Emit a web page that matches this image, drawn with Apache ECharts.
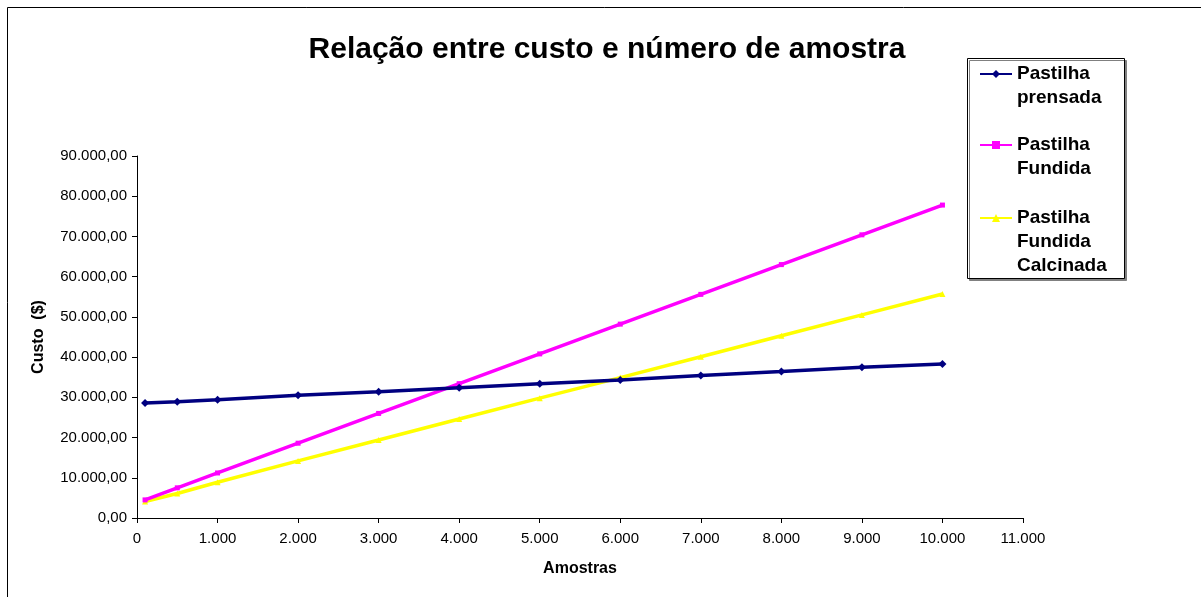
<!DOCTYPE html>
<html>
<head>
<meta charset="utf-8">
<script src="https://cdn.jsdelivr.net/npm/echarts@6/dist/echarts.min.js"></script>
<style>
  html, body { margin: 0; padding: 0; background: #fff; }
  #chart { width: 1201px; height: 597px; }
</style>
</head>
<body>
<div id="chart"></div>
<script>
// amostras (eixo x) e custos
const amostras = [100, 500, 1000, 2000, 3000, 4000, 5000, 6000, 7000, 8000, 9000, 10000]
const prensada = [28600, 28900, 29400, 30500, 31400, 32400, 33400, 34300, 35400, 36400, 37500, 38300]
const fundida = [4500, 7500, 11200, 18600, 26000, 33400, 40800, 48200, 55600, 63000, 70400, 77800]
const calcinada = [4100, 6100, 8900, 14200, 19400, 24600, 29800, 34900, 40100, 45300, 50500, 55700]

const seriesNames = ['Pastilha\nprensada', 'Pastilha\nFundida', 'Pastilha\nFundida\nCalcinada']

const font = 'Arial, "Liberation Sans", sans-serif'

function fmtBR(v, dec) {
  const parts = v.toFixed(dec).split('.')
  const intPart = parts[0].replace(/\B(?=(\d{3})+(?!\d))/g, '.')
  return parts[1] ? intPart + ',' + parts[1] : intPart
}

function pairs(ys) {
  return amostras.map((x, i) => [x, ys[i]])
}

// one legend per series; blank lines in front keep the icon on the first text line
function legendFor(name, iconY, lines) {
  return {
    data: [name],
    orient: 'vertical',
    left: 979,
    top: iconY - (lines - 0.5) * 24,
    padding: 0,
    itemWidth: 32,
    itemHeight: 10,
    itemGap: 0,
    formatter: n => '\n'.repeat(lines - 1) + n,
    textStyle: {
      fontFamily: font,
      fontSize: 19,
      fontWeight: 'bold',
      color: '#000',
      lineHeight: 24
    }
  }
}

const chart = echarts.init(document.getElementById('chart'))

chart.setOption({
  animation: false,
  backgroundColor: '#fff',
  title: {
    text: 'Relação entre custo e número de amostra',
    left: 602,
    textAlign: 'center',
    top: 30,
    textStyle: {
      fontFamily: font,
      fontSize: 30,
      fontWeight: 'bold',
      color: '#000'
    }
  },
  graphic: [
    {
      type: 'rect',
      z: -10,
      shape: { x: 7.5, y: 7.5, width: 1400, height: 800 },
      style: { fill: 'none', stroke: '#000', lineWidth: 1 }
    },
    {
      type: 'rect',
      z: -5,
      shape: { x: 967.5, y: 58.5, width: 157, height: 220 },
      style: {
        fill: '#fff',
        stroke: '#000',
        lineWidth: 1,
        shadowColor: '#808080',
        shadowBlur: 0,
        shadowOffsetX: 2,
        shadowOffsetY: 2
      }
    }
  ],
  legend: [
    legendFor(seriesNames[0], 74, 2),
    legendFor(seriesNames[1], 145, 2),
    legendFor(seriesNames[2], 218, 3)
  ],
  grid: {
    left: 137,
    right: 178,
    top: 156,
    bottom: 79,
    containLabel: false
  },
  xAxis: {
    type: 'value',
    min: 0,
    max: 11000,
    interval: 1000,
    name: 'Amostras',
    nameLocation: 'middle',
    nameGap: 43,
    nameTextStyle: { fontFamily: font, fontSize: 16, fontWeight: 'bold', color: '#000' },
    axisLine: { lineStyle: { color: '#000', width: 1 } },
    axisTick: { show: true, length: 5, lineStyle: { color: '#000' } },
    axisLabel: {
      margin: 13,
      fontFamily: font,
      fontSize: 15,
      color: '#000',
      formatter: v => fmtBR(v, 0)
    },
    splitLine: { show: false }
  },
  yAxis: {
    type: 'value',
    min: 0,
    max: 90000,
    interval: 10000,
    name: 'Custo  ($)',
    nameLocation: 'middle',
    nameGap: 90,
    nameTextStyle: {
      fontFamily: font,
      fontSize: 16,
      fontWeight: 'bold',
      color: '#000'
    },
    axisLine: { show: true, lineStyle: { color: '#000', width: 1 } },
    axisTick: { show: true, length: 5, lineStyle: { color: '#000' } },
    axisLabel: {
      margin: 10,
      fontFamily: font,
      fontSize: 15,
      color: '#000',
      formatter: v => fmtBR(v, 2)
    },
    splitLine: { show: false }
  },
  series: [
    {
      name: seriesNames[0],
      type: 'line',
      data: pairs(prensada),
      symbol: 'diamond',
      symbolSize: 8,
      itemStyle: { color: '#000080' },
      lineStyle: { color: '#000080', width: 3.5 },
      z: 4
    },
    {
      name: seriesNames[1],
      type: 'line',
      data: pairs(fundida),
      symbol: 'rect',
      symbolSize: 5,
      itemStyle: { color: '#FF00FF' },
      lineStyle: { color: '#FF00FF', width: 3.5 },
      z: 3
    },
    {
      name: seriesNames[2],
      type: 'line',
      data: pairs(calcinada),
      symbol: 'triangle',
      symbolSize: 6,
      itemStyle: { color: '#FFFF00' },
      lineStyle: { color: '#FFFF00', width: 3.5 },
      z: 2
    }
  ]
})
</script>
</body>
</html>
